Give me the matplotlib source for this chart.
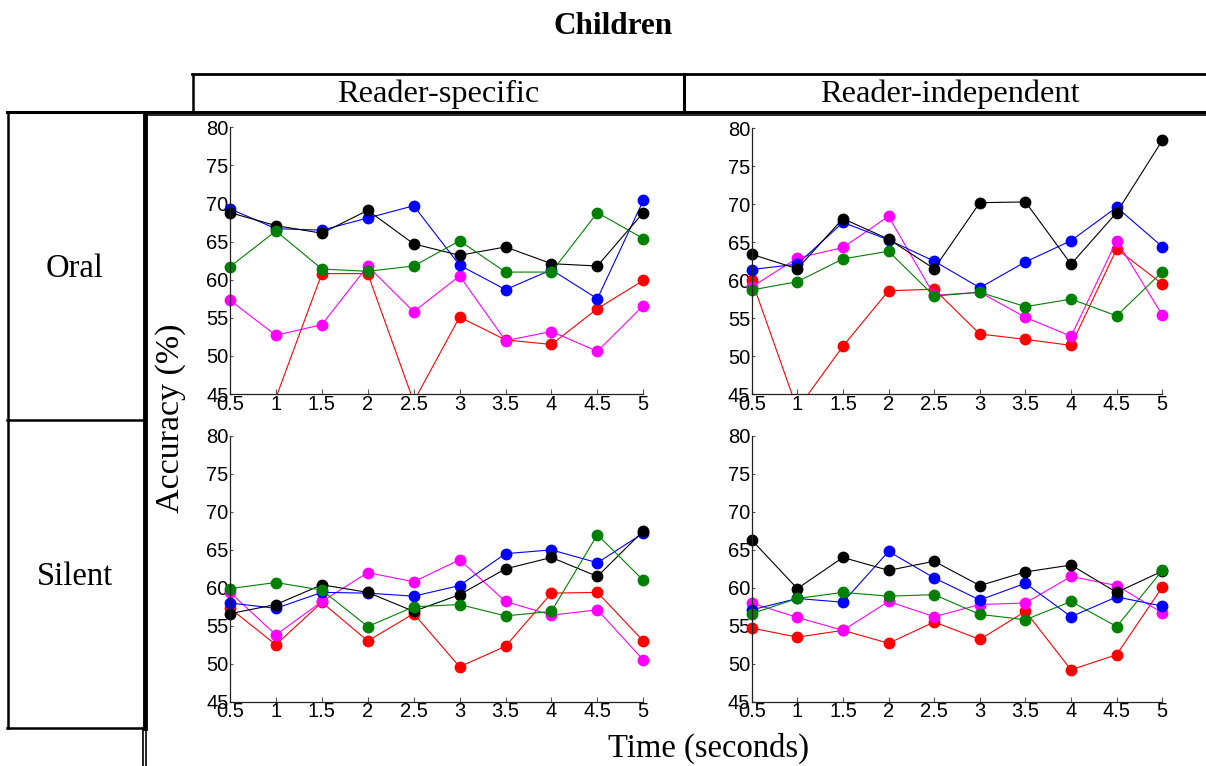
import numpy as np
import matplotlib
matplotlib.use('Agg')
import matplotlib.pyplot as plt
from matplotlib.lines import Line2D

# Time windows (seconds) and accuracy (%) for the five runs in each condition
time_s = [0.5, 1, 1.5, 2, 2.5, 3, 3.5, 4, 4.5, 5]
y_ticks = [45, 50, 55, 60, 65, 70, 75, 80]

# series order: red, magenta, blue, black, green
oral_specific = [
    [43.0, 44.5, 60.8, 60.8, 44.0, 55.1, 52.1, 51.5, 56.2, 59.9],
    [57.3, 52.7, 54.1, 61.8, 55.8, 60.5, 52.0, 53.2, 50.6, 56.6],
    [69.3, 66.7, 66.5, 68.1, 69.7, 61.9, 58.7, 61.3, 57.5, 70.4],
    [68.8, 67.1, 66.1, 69.1, 64.7, 63.2, 64.3, 62.1, 61.8, 68.8],
    [61.7, 66.4, 61.4, 61.1, 61.8, 65.1, 61.0, 61.0, 68.8, 65.4],
]
oral_independent = [
    [60.0, 43.0, 51.3, 58.6, 58.8, 52.9, 52.2, 51.4, 64.1, 59.5],
    [59.1, 62.9, 64.3, 68.4, 58.0, 58.4, 55.1, 52.6, 65.2, 55.4],
    [61.4, 62.1, 67.6, 65.3, 62.5, 59.0, 62.4, 65.2, 69.6, 64.4],
    [63.4, 61.5, 68.1, 65.4, 61.5, 70.2, 70.3, 62.1, 68.9, 78.4],
    [58.7, 59.8, 62.8, 63.8, 57.9, 58.4, 56.5, 57.5, 55.3, 61.1],
]
silent_specific = [
    [57.3, 52.5, 58.1, 53.0, 56.6, 49.6, 52.3, 59.3, 59.4, 53.0],
    [59.4, 53.8, 58.2, 62.0, 60.8, 63.7, 58.2, 56.4, 57.1, 50.5],
    [58.0, 57.3, 59.4, 59.3, 58.9, 60.3, 64.5, 65.0, 63.3, 67.2],
    [56.6, 57.8, 60.4, 59.4, 56.9, 59.1, 62.5, 64.0, 61.5, 67.5],
    [59.9, 60.7, 59.7, 54.9, 57.5, 57.8, 56.3, 56.9, 67.0, 61.0],
]
silent_independent = [
    [54.7, 53.5, 54.4, 52.7, 55.5, 53.2, 56.9, 49.2, 51.2, 60.1],
    [58.0, 56.1, 54.4, 58.2, 56.2, 57.8, 58.0, 61.5, 60.3, 56.7],
    [57.1, 58.6, 58.1, 64.8, 61.3, 58.4, 60.6, 56.2, 58.8, 57.6],
    [66.3, 59.9, 64.0, 62.3, 63.5, 60.3, 62.1, 63.0, 59.4, 62.2],
    [56.6, 58.6, 59.4, 58.9, 59.1, 56.5, 55.8, 58.2, 54.9, 62.3],
]

series_colors = ['#ff0000', '#ff00ff', '#0000ff', '#000000', '#008000']

W, H = 1206, 766
SERIF = ['Liberation Serif', 'DejaVu Serif']
SANS = ['Liberation Sans', 'DejaVu Sans']


def fx(px):
    return px / W


def fy(py):
    return 1 - py / H


def hline(fig, y, x0, x1, lw=1.5):
    fig.add_artist(Line2D([fx(x0), fx(x1)], [fy(y), fy(y)], color='k',
                          lw=lw, transform=fig.transFigure))


def vline(fig, x, y0, y1, lw=1.5):
    fig.add_artist(Line2D([fx(x), fx(x)], [fy(y0), fy(y1)], color='k',
                          lw=lw, transform=fig.transFigure))


def add_panel(fig, x0, x1, ytop, ybot, data):
    ax = fig.add_axes([fx(x0), fy(ybot), fx(x1) - fx(x0), (ybot - ytop) / H])
    for vals, col in zip(data, series_colors):
        vals = np.asarray(vals)
        ax.plot(time_s, vals, color=col, lw=0.8)
        # markers only where the point lies inside the axis range
        inside = vals >= 45
        ax.plot(np.asarray(time_s)[inside], vals[inside], 'o', color=col,
                ms=7.5, clip_on=False)
    ax.set_xlim(0.5, 5)
    ax.set_ylim(45, 80)
    ax.set_xticks(time_s)
    ax.set_xticklabels([f'{t:g}' for t in time_s])
    ax.set_yticks(y_ticks)
    for s in ['top', 'right']:
        ax.spines[s].set_visible(False)
    for s in ['left', 'bottom']:
        ax.spines[s].set_linewidth(0.9)
        ax.spines[s].set_color('#222222')
    ax.tick_params(axis='x', direction='in', length=3.5, width=0.8,
                   color='#555555', pad=0.5)
    ax.tick_params(axis='y', direction='in', length=2.5, width=0.8,
                   color='#555555', pad=1)
    for lab in ax.get_xticklabels() + ax.get_yticklabels():
        lab.set_family(SANS)
        lab.set_fontsize(14.5)
    ax.set_facecolor('none')
    return ax


fig = plt.figure(figsize=(W / 100, H / 100), dpi=100)

add_panel(fig, 230, 643.3, 127.3, 394, oral_specific)
add_panel(fig, 751.7, 1162.3, 128.3, 394, oral_independent)
add_panel(fig, 230, 643.3, 436, 701.7, silent_specific)
add_panel(fig, 751.7, 1162.3, 436, 701.7, silent_independent)

# table frame around the panels
hline(fig, 74, 192, W, lw=2)
vline(fig, 192.5, 74, 111, lw=1.8)
vline(fig, 684, 74, 111, lw=2.2)
hline(fig, 111.5, 7, W, lw=2.2)
hline(fig, 114.5, 146, W, lw=1.2)
vline(fig, 8, 111.5, 728, lw=1.8)
vline(fig, 144.5, 113, 728, lw=3.5)
hline(fig, 419.5, 7, 144, lw=1.8)
hline(fig, 728, 7, 144, lw=1.8)
vline(fig, 142.5, 728, H, lw=1.2)
vline(fig, 146, 728, H, lw=1.2)

fig.text(fx(613), fy(26), 'Children', family=SERIF, weight='bold',
         fontsize=22.5, ha='center', va='center')
fig.text(fx(438), fy(94), 'Reader-specific', family=SERIF, fontsize=23.3,
         ha='center', va='center')
fig.text(fx(950), fy(94), 'Reader-independent', family=SERIF, fontsize=23.3,
         ha='center', va='center')
fig.text(fx(75), fy(269), 'Oral', family=SERIF, fontsize=23.5,
         ha='center', va='center')
fig.text(fx(75), fy(577), 'Silent', family=SERIF, fontsize=23.5,
         ha='center', va='center')
fig.text(fx(171), fy(418), 'Accuracy (%)', family=SERIF, fontsize=24.5,
         ha='center', va='center', rotation=90)
fig.text(fx(708), fy(748), 'Time (seconds)', family=SERIF, fontsize=23.5,
         ha='center', va='center')

fig.savefig('out.png', dpi=100)
